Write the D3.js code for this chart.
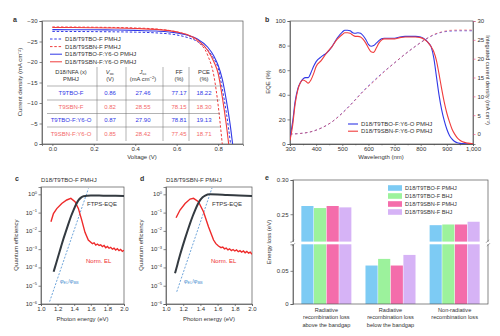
<!DOCTYPE html>
<html>
<head>
<meta charset="utf-8">
<script src="https://cdn.jsdelivr.net/npm/d3@7"></script>
<style>
body { margin: 0; background: #fff; }
svg text { font-family: "Liberation Sans", Arial, sans-serif; fill: #333; }
</style>
</head>
<body>
<svg id="fig" width="500" height="336"></svg>
<script>
// ---- panel a : J-V curves ----
let jvVoltage = [0, 0.1, 0.2, 0.3, 0.4, 0.5, 0.6, 0.65, 0.7, 0.75, 0.78, 0.8, 0.82, 0.84, 0.86, 0.88];
let jvTBO = [-27.46, -27.44, -27.41, -27.36, -27.28, -27.1, -26.6, -26.0, -25.0, -22.9, -20.7, -18.5, -13.5, -7.5, 0, 9];
let jvSBN = [-28.55, -28.52, -28.48, -28.42, -28.3, -28.05, -27.35, -26.6, -25.0, -21.6, -16.5, -9.5, 0, 10, 20, 30];
let jvTBOY6 = [-27.9, -27.88, -27.85, -27.8, -27.72, -27.55, -27.1, -26.6, -25.6, -23.6, -21.4, -19.2, -15.8, -10.5, -4.0, 4.5];
let jvSBNY6 = [-28.42, -28.4, -28.36, -28.3, -28.18, -27.95, -27.35, -26.7, -25.4, -22.8, -20.0, -17.2, -11.5, -4.5, 4, 13];
let jvLabels = ["D18/T9TBO-F PMHJ", "D18/T9SBN-F PMHJ", "D18/T9TBO-F:Y6-O PMHJ", "D18/T9SBN-F:Y6-O PMHJ"];

let tableNames = ["T9TBO-F", "T9SBN-F", "T9TBO-F:Y6-O", "T9SBN-F:Y6-O"];
let tableVoc = ["0.86", "0.82", "0.87", "0.85"];
let tableJsc = ["27.46", "28.55", "27.90", "28.42"];
let tableFF = ["77.17", "78.15", "78.81", "77.45"];
let tablePCE = ["18.22", "18.30", "19.13", "18.71"];

// ---- panel b : EQE ----
let eqeWl = [300, 310, 320, 330, 340, 350, 360, 370, 380, 390, 400, 420, 440, 460, 480, 500, 510, 520, 530, 540, 550, 560, 570, 580, 590, 600, 610, 620, 630, 640, 650, 660, 680, 700, 720, 740, 760, 780, 800, 820, 830, 840, 850, 860, 870, 880, 890, 900, 910, 920, 930, 940, 950, 960, 980, 1000];
let eqeTBO = [5, 18, 35, 45, 50, 53, 54, 54, 58, 63, 67, 71, 74, 79, 86, 91, 92.5, 92.5, 92, 90.5, 90, 90.5, 90, 88, 85, 81, 79.5, 80, 82, 84, 85.5, 86, 86, 86, 87, 87.5, 87.5, 87.5, 87, 84.5, 82, 79, 70, 55, 40, 28, 19, 12, 7, 4, 2, 1, 0.5, 0.3, 0.1, 0];
let eqeSBN = [3, 15, 33, 44, 50, 52, 51, 49.5, 52, 57, 63, 68, 74, 79, 85, 89, 90.5, 90.5, 90, 88.5, 87.5, 87.5, 87, 85, 82, 78, 75, 74.5, 78, 82, 84.5, 85.5, 85.5, 85.5, 86.5, 87, 87, 87, 86.5, 84, 82, 79, 75, 68, 57, 45, 34, 25, 18, 12, 8, 5, 3, 1.8, 0.7, 0.2];
let intWl = [300, 340, 380, 420, 460, 500, 540, 580, 620, 660, 700, 740, 780, 820, 850, 880, 910, 950, 1000];
let intTBO = [0, 0.15, 0.6, 1.6, 3.2, 5.6, 8.4, 11.4, 14.1, 16.6, 18.9, 21.2, 23.3, 25.2, 26.3, 27.0, 27.3, 27.4, 27.4];
let intSBN = [0, 0.15, 0.6, 1.6, 3.2, 5.5, 8.3, 11.3, 13.9, 16.5, 18.9, 21.2, 23.3, 25.2, 26.4, 27.1, 27.5, 27.6, 27.6];
let eqeLabels = ["D18/T9TBO-F:Y6-O PMHJ", "D18/T9SBN-F:Y6-O PMHJ"];

// ---- panels c, d : FTPS-EQE / EL (log10 of quantum efficiency) ----
let ftpsE_c = [1.152, 1.182, 1.212, 1.242, 1.272, 1.302, 1.332, 1.362, 1.392, 1.422, 1.452, 1.482, 1.512, 1.6, 1.7, 1.8, 1.9, 2.0];
let ftpsLog_c = [-4.24, -3.78, -3.32, -2.86, -2.41, -2.0, -1.59, -1.2, -0.86, -0.56, -0.32, -0.18, -0.1, -0.07, -0.07, -0.08, -0.08, -0.09];
let elE_c = [1.12, 1.15, 1.19, 1.25, 1.31, 1.36, 1.41, 1.45, 1.49, 1.53, 1.57, 1.6, 1.62, 1.64, 1.66, 1.68, 1.7, 1.72, 1.74, 1.76, 1.78, 1.8, 1.82, 1.84, 1.86, 1.88, 1.9, 1.92, 1.94, 1.96, 1.98, 2.0];
let elLog_c = [-1.5, -1.05, -0.78, -0.5, -0.31, -0.22, -0.4, -0.77, -1.4, -2.08, -2.5, -2.62, -2.7, -2.66, -2.78, -2.72, -2.8, -2.76, -2.86, -2.8, -2.92, -2.85, -2.95, -2.9, -3.0, -2.94, -3.05, -2.98, -3.08, -3.02, -3.12, -3.06];
let ratioE_c = [1.104, 1.572];
let ratioLog_c = [-5.87, 0.32];

let ftpsE_d = [1.105, 1.134, 1.163, 1.192, 1.222, 1.251, 1.28, 1.31, 1.339, 1.368, 1.397, 1.426, 1.455, 1.51, 1.6, 1.71, 1.85, 2.0];
let ftpsLog_d = [-4.32, -3.82, -3.32, -2.86, -2.41, -1.99, -1.59, -1.2, -0.86, -0.56, -0.32, -0.16, -0.07, 0.0, -0.01, -0.04, -0.06, -0.09];
let elE_d = [1.117, 1.163, 1.222, 1.28, 1.32, 1.377, 1.436, 1.494, 1.553, 1.58, 1.61, 1.64, 1.66, 1.68, 1.7, 1.72, 1.74, 1.76, 1.78, 1.8, 1.82, 1.84, 1.86, 1.88, 1.9, 1.92, 1.94, 1.96, 1.98, 2.0];
let elLog_d = [-1.28, -0.86, -0.5, -0.26, -0.22, -0.4, -0.95, -1.77, -2.5, -2.7, -2.83, -2.92, -2.88, -2.98, -2.94, -3.04, -2.98, -3.08, -3.02, -3.1, -3.04, -3.14, -3.08, -3.16, -3.1, -3.2, -3.12, -3.22, -3.16, -3.28];
let ratioE_d = [1.125, 1.535];
let ratioLog_d = [-5.33, 0.35];

// ---- panel e : energy loss ----
let lossGroups = ["Radiative|recombination loss|above the bandgap", "Radiative|recombination loss|below the bandgap", "Non-radiative|recombination loss"];
let lossSeries = ["D18/T9TBO-F PMHJ", "D18/T9TBO-F BHJ", "D18/T9SBN-F PMHJ", "D18/T9SBN-F BHJ"];
let lossTBO_PMHJ = [0.262, 0.058, 0.234];
let lossTBO_BHJ = [0.259, 0.068, 0.235];
let lossSBN_PMHJ = [0.262, 0.058, 0.235];
let lossSBN_BHJ = [0.260, 0.074, 0.239];

let blue = "#3138e6", red = "#f03c3c", pink = "#ef5b93";
let barColors = ["#7dcbf4", "#9cf29c", "#f46dab", "#d6b3f6"];

let svg = d3.select("#fig");
svg.append("rect").attr("width", 500).attr("height", 336).attr("fill", "#fff");

function styleAxis(g) {
    g.selectAll("path").attr("stroke", "#555").attr("stroke-width", 0.7);
    g.selectAll("line").attr("stroke", "#555").attr("stroke-width", 0.7);
    g.selectAll("text").attr("font-size", 6).attr("fill", "#444");
}
function box(x0, y0, x1, y1) {
    svg.append("rect").attr("x", x0).attr("y", y0).attr("width", x1 - x0).attr("height", y1 - y0)
        .attr("fill", "none").attr("stroke", "#555").attr("stroke-width", 0.7);
}
function clip(id, x0, y0, x1, y1) {
    svg.append("clipPath").attr("id", id).append("rect")
        .attr("x", x0).attr("y", y0).attr("width", x1 - x0).attr("height", y1 - y0);
}
function panelLabel(t, x, y) {
    svg.append("text").attr("x", x).attr("y", y).attr("font-size", 7).attr("font-weight", "bold").attr("fill", "#111").text(t);
}
function yLabel(x, y, t, col) {
    return svg.append("text").attr("transform", "translate(" + x + "," + y + ") rotate(-90)")
        .attr("text-anchor", "middle").attr("font-size", 6).attr("fill", col || "#333").text(t);
}

// ================= panel a =================
let ax = d3.scaleLinear().domain([-0.05, 0.92]).range([42, 243]);
let ay = d3.scaleLinear().domain([0, -30]).range([144, 21]);
svg.append("g").attr("transform", "translate(0,144)")
    .call(d3.axisBottom(ax).tickValues([0, 0.2, 0.4, 0.6, 0.8]).tickSize(2).tickPadding(1)).call(styleAxis);
svg.append("g").attr("transform", "translate(42,0)")
    .call(d3.axisLeft(ay).tickValues([0, -5, -10, -15, -20, -25, -30]).tickSize(2.5).tickPadding(2)).call(styleAxis);
box(42, 21, 243, 144);
clip("clipA", 42, 21, 243, 144);

let jvSeries = [
    { vals: jvTBO, color: blue, dash: "2.5,1.8" },
    { vals: jvSBN, color: red, dash: "2.5,1.8" },
    { vals: jvTBOY6, color: blue, dash: null },
    { vals: jvSBNY6, color: red, dash: null }
];
let jvLine = d3.line().x((d, i) => ax(jvVoltage[i])).y(d => ay(d)).curve(d3.curveMonotoneX);
svg.append("g").attr("clip-path", "url(#clipA)").selectAll("path").data(jvSeries).enter().append("path")
    .attr("d", d => jvLine(d.vals)).attr("fill", "none").attr("stroke", d => d.color)
    .attr("stroke-width", d => d.dash ? 1 : 1.1).attr("stroke-dasharray", d => d.dash);

// legend
jvSeries.forEach((s, i) => {
    let y = 39 + i * 7.6;
    svg.append("line").attr("x1", 50).attr("x2", 62).attr("y1", y).attr("y2", y)
        .attr("stroke", s.color).attr("stroke-width", 1).attr("stroke-dasharray", s.dash);
    svg.append("text").attr("x", 65).attr("y", y + 2).attr("font-size", 6).attr("fill", "#333").text(jvLabels[i]);
});

// table
let colX = [71, 110, 143, 179, 204];
let hdr = svg.append("g").attr("font-size", 5.8).attr("text-anchor", "middle");
hdr.append("text").attr("x", colX[0]).attr("y", 74).text("D18/NFA (x)");
hdr.append("text").attr("x", colX[0]).attr("y", 81).text("PMHJ");
let t1 = hdr.append("text").attr("x", colX[1]).attr("y", 74);
t1.append("tspan").attr("font-style", "italic").text("V");
t1.append("tspan").attr("font-size", 4.2).attr("dy", 1.2).text("oc");
hdr.append("text").attr("x", colX[1]).attr("y", 81).text("(V)");
let t2 = hdr.append("text").attr("x", colX[2]).attr("y", 74);
t2.append("tspan").attr("font-style", "italic").text("J");
t2.append("tspan").attr("font-size", 4.2).attr("dy", 1.2).text("sc");
let t3 = hdr.append("text").attr("x", colX[2]).attr("y", 81);
t3.append("tspan").text("(mA cm");
t3.append("tspan").attr("font-size", 4.2).attr("dy", -2).text("−2");
t3.append("tspan").attr("dy", 2).text(")");
hdr.append("text").attr("x", colX[3]).attr("y", 74).text("FF");
hdr.append("text").attr("x", colX[3]).attr("y", 81).text("(%)");
hdr.append("text").attr("x", colX[4]).attr("y", 74).text("PCE");
hdr.append("text").attr("x", colX[4]).attr("y", 81).text("(%)");

[97, 126, 163, 189].forEach(x => {
    svg.append("line").attr("x1", x).attr("x2", x).attr("y1", 67).attr("y2", 141).attr("stroke", "#666").attr("stroke-width", 0.5);
});
[86, 100, 113.5, 127].forEach(y => {
    svg.append("line").attr("x1", 47).attr("x2", 220).attr("y1", y).attr("y2", y).attr("stroke", "#666").attr("stroke-width", 0.5);
});
let rowCols = [blue, "#f36a6a", blue, "#f36a6a"];
tableNames.forEach((n, i) => {
    let y = 95 + i * 13.7;
    let cells = [n, tableVoc[i], tableJsc[i], tableFF[i], tablePCE[i]];
    cells.forEach((c, j) => {
        svg.append("text").attr("x", colX[j]).attr("y", y).attr("text-anchor", "middle")
            .attr("font-size", 6).style("fill", rowCols[i]).text(c);
    });
});

yLabel(22, 82, "Current density (mA cm⁻²)");
svg.append("text").attr("x", 142).attr("y", 159).attr("text-anchor", "middle").attr("font-size", 6).text("Voltage (V)");
panelLabel("a", 13, 22);

// ================= panel b =================
let bx = d3.scaleLinear().domain([300, 1000]).range([290, 473]);
let by = d3.scaleLinear().domain([0, 100]).range([144, 21]);
let by2 = d3.scaleLinear().domain([-2.65, 30]).range([144, 21]);
svg.append("g").attr("transform", "translate(0,144)")
    .call(d3.axisBottom(bx).tickValues(d3.range(350, 1000, 100)).tickSize(1.3).tickFormat("")).call(styleAxis);
svg.append("g").attr("transform", "translate(0,144)")
    .call(d3.axisBottom(bx).tickValues(d3.range(300, 1001, 100)).tickSize(2).tickPadding(1).tickFormat(d3.format(","))).call(styleAxis);
svg.append("g").attr("transform", "translate(290,0)")
    .call(d3.axisLeft(by).tickValues(d3.range(0, 101, 20)).tickSize(2.5).tickPadding(2)).call(styleAxis);
let bRight = svg.append("g").attr("transform", "translate(473,0)")
    .call(d3.axisRight(by2).tickValues(d3.range(0, 31, 5)).tickSize(2.5).tickPadding(2)).call(styleAxis);
bRight.selectAll("line").attr("stroke", pink);
bRight.selectAll("text").attr("fill", pink);
box(290, 21, 473, 144);
clip("clipB", 290, 21, 473, 144);

let gb = svg.append("g").attr("clip-path", "url(#clipB)");
let intLine = d3.line().x((d, i) => bx(intWl[i])).y(d => by2(d)).curve(d3.curveMonotoneX);
gb.append("path").attr("d", intLine(intTBO)).attr("fill", "none").attr("stroke", blue)
    .attr("stroke-width", 1).attr("stroke-dasharray", "2.5,2.5").attr("opacity", 0.7);
gb.append("path").attr("d", intLine(intSBN)).attr("fill", "none").attr("stroke", red)
    .attr("stroke-width", 1).attr("stroke-dasharray", "2.5,2.5").attr("opacity", 0.6);
let eqeLine = d3.line().x((d, i) => bx(eqeWl[i])).y(d => by(d)).curve(d3.curveMonotoneX);
gb.append("path").attr("d", eqeLine(eqeTBO)).attr("fill", "none").attr("stroke", blue).attr("stroke-width", 1.1);
gb.append("path").attr("d", eqeLine(eqeSBN)).attr("fill", "none").attr("stroke", red).attr("stroke-width", 1.1);

[blue, red].forEach((c, i) => {
    let y = 124 + i * 7.2;
    svg.append("line").attr("x1", 348).attr("x2", 358).attr("y1", y).attr("y2", y).attr("stroke", c).attr("stroke-width", 1.1);
    svg.append("text").attr("x", 361).attr("y", y + 2).attr("font-size", 6).text(eqeLabels[i]);
});
yLabel(270, 82, "EQE (%)");
svg.append("text").attr("transform", "translate(486,80) rotate(90)").attr("text-anchor", "middle")
    .attr("font-size", 5.6).attr("fill", pink).text("Integrated current density (mA cm⁻²)");
svg.append("text").attr("x", 381).attr("y", 159).attr("text-anchor", "middle").attr("font-size", 6).text("Wavelength (nm)");
panelLabel("b", 265, 22);

// ================= panels c and d =================
function qePanel(x0, x1, id, title, ftpsE, ftpsLog, elE, elLog, rE, rLog, txt) {
    let qx = d3.scaleLinear().domain([1.0, 2.0]).range([x0, x1]);
    let qy = d3.scaleLinear().domain([-6, 0.4]).range([304, 187]);
    svg.append("g").attr("transform", "translate(0,304)")
        .call(d3.axisBottom(qx).tickValues([1.0, 1.2, 1.4, 1.6, 1.8, 2.0]).tickSize(2).tickPadding(1).tickFormat(d3.format(".1f"))).call(styleAxis);
    svg.append("g").attr("transform", "translate(" + x0 + ",0)")
        .call(d3.axisLeft(qy).tickValues(d3.range(-6, 1)).tickSize(2.5).tickFormat("")).call(styleAxis);
    d3.range(-6, 1).forEach(p => {
        let t = svg.append("text").attr("x", x0 - 4).attr("y", qy(p) + 2).attr("text-anchor", "end").attr("font-size", 6).attr("fill", "#444");
        t.append("tspan").text("10");
        t.append("tspan").attr("font-size", 4).attr("dy", -2.5).text(p < 0 ? "−" + (-p) : "0");
    });
    box(x0, 187, x1, 304);
    clip(id, x0, 187, x1, 304);
    let g = svg.append("g").attr("clip-path", "url(#" + id + ")");
    g.append("path").attr("d", d3.line().x((d, i) => qx(rE[i])).y(d => qy(d))(rLog))
        .attr("fill", "none").attr("stroke", "#4a8ed0").attr("stroke-width", 0.8).attr("stroke-dasharray", "2,1.5");
    g.append("path").attr("d", d3.line().x((d, i) => qx(elE[i])).y(d => qy(d)).curve(d3.curveLinear)(elLog))
        .attr("fill", "none").attr("stroke", "#ee2a2a").attr("stroke-width", 1.4);
    g.append("path").attr("d", d3.line().x((d, i) => qx(ftpsE[i])).y(d => qy(d)).curve(d3.curveMonotoneX)(ftpsLog))
        .attr("fill", "none").attr("stroke", "#333a40").attr("stroke-width", 2);
    svg.append("text").attr("x", x0).attr("y", 182).attr("font-size", 6).text(title);
    svg.append("text").attr("x", txt[0]).attr("y", 206).attr("font-size", 6).attr("fill", "#666").text("FTPS-EQE");
    svg.append("text").attr("x", txt[1]).attr("y", 263).attr("font-size", 6).style("fill", "#ee2a2a").text("Norm. EL");
    let r = svg.append("text").attr("x", txt[2]).attr("y", 283).attr("font-size", 5.5).style("fill", "#4a8ed0");
    r.append("tspan").attr("font-style", "italic").text("φ");
    r.append("tspan").attr("font-size", 3.8).attr("dy", 1).text("EL");
    r.append("tspan").attr("dy", -1).text("/");
    r.append("tspan").attr("font-style", "italic").text("φ");
    r.append("tspan").attr("font-size", 3.8).attr("dy", 1).text("BB");
    svg.append("text").attr("x", (x0 + x1) / 2).attr("y", 321).attr("text-anchor", "middle").attr("font-size", 6).text("Photon energy (eV)");
}
qePanel(41, 124, "clipC", "D18/T9TBO-F PMHJ", ftpsE_c, ftpsLog_c, elE_c, elLog_c, ratioE_c, ratioLog_c, [87, 86, 60]);
qePanel(166, 252, "clipD", "D18/T9SBN-F PMHJ", ftpsE_d, ftpsLog_d, elE_d, elLog_d, ratioE_d, ratioLog_d, [212, 211, 184]);
yLabel(18, 245, "Quantum efficiency");
yLabel(143, 245, "Quantum efficiency");
panelLabel("c", 15, 181);
panelLabel("d", 140, 181);

// ================= panel e =================
let ex0 = d3.scaleBand().domain(d3.range(3)).range([293, 488]).paddingInner(0.22).paddingOuter(0.13);
let ex1 = d3.scaleBand().domain(d3.range(4)).range([0, ex0.bandwidth()]).paddingInner(0.04);
let eyLow = d3.scaleLinear().domain([0, 0.09]).range([304, 244.3]);
let eyHigh = d3.scaleLinear().domain([0.21, 0.30]).range([241.6, 180]);
let lossVals = [lossTBO_PMHJ, lossTBO_BHJ, lossSBN_PMHJ, lossSBN_BHJ];

let eg = svg.append("g");
lossVals.forEach((vals, s) => {
    vals.forEach((v, gi) => {
        let x = ex0(gi) + ex1(s);
        let lowTop = eyLow(Math.min(v, 0.09));
        eg.append("rect").attr("x", x).attr("width", ex1.bandwidth()).attr("y", lowTop).attr("height", 304 - lowTop).attr("fill", barColors[s]);
        if (v > 0.21) {
            eg.append("rect").attr("x", x).attr("width", ex1.bandwidth()).attr("y", eyHigh(v)).attr("height", 241.6 - eyHigh(v)).attr("fill", barColors[s]);
        }
    });
});
svg.append("g").attr("transform", "translate(293,0)")
    .call(d3.axisLeft(eyLow).tickValues([0, 0.05]).tickSize(2.5).tickPadding(2).tickFormat(d => d === 0 ? "0" : d3.format(".2f")(d))).call(styleAxis);
svg.append("g").attr("transform", "translate(293,0)")
    .call(d3.axisLeft(eyHigh).tickValues([0.25, 0.30]).tickSize(2.5).tickPadding(2).tickFormat(d3.format(".2f"))).call(styleAxis);
box(293, 180, 488, 304);
// axis break marks
[293, 488].forEach(x => {
    svg.append("rect").attr("x", x - 2).attr("y", 241.8).attr("width", 4).attr("height", 2.3).attr("fill", "#fff");
    svg.append("line").attr("x1", x - 2).attr("x2", x + 1).attr("y1", 242.8).attr("y2", 239.8).attr("stroke", "#555").attr("stroke-width", 0.5);
    svg.append("line").attr("x1", x - 1).attr("x2", x + 2).attr("y1", 246.2).attr("y2", 243.2).attr("stroke", "#555").attr("stroke-width", 0.5);
});
lossSeries.forEach((n, i) => {
    let y = 188 + i * 8;
    svg.append("rect").attr("x", 388).attr("y", y - 2.8).attr("width", 14).attr("height", 5.6).attr("fill", barColors[i]);
    svg.append("text").attr("x", 405).attr("y", y + 2).attr("font-size", 5.6).text(n);
});
lossGroups.forEach((g, i) => {
    g.split("|").forEach((line, k) => {
        svg.append("text").attr("x", ex0(i) + ex0.bandwidth() / 2).attr("y", 312 + k * 7.3)
            .attr("text-anchor", "middle").attr("font-size", 5.6).text(line);
    });
});
yLabel(271, 242, "Energy loss (eV)");
panelLabel("e", 265, 180);
</script>
</body>
</html>
